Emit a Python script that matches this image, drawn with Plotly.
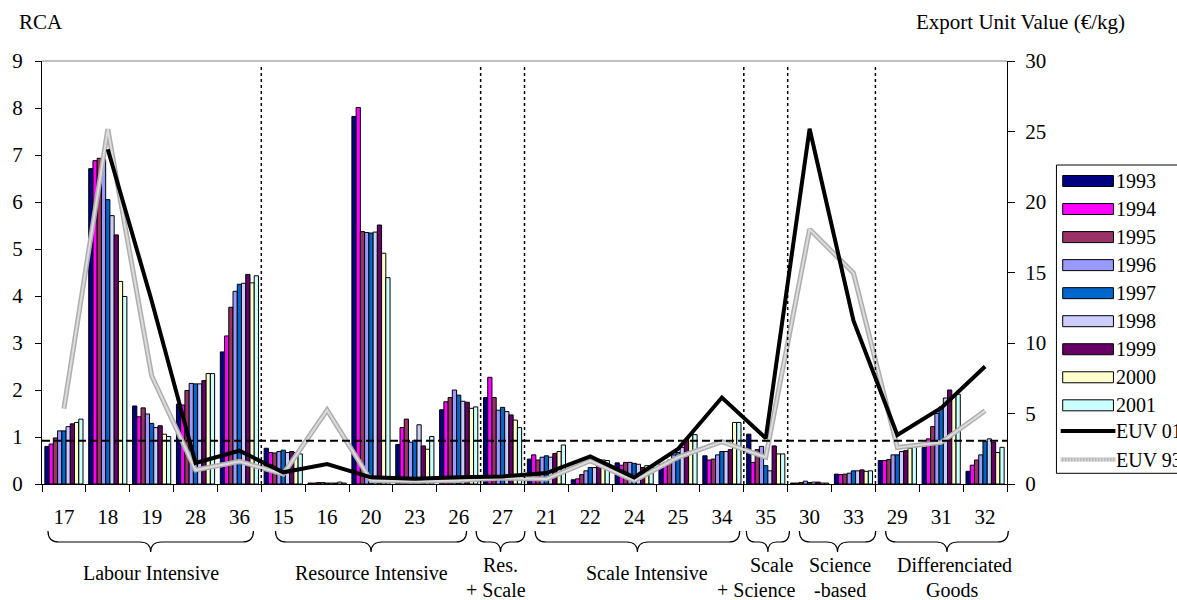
import plotly.graph_objects as go

# ---------------- data ----------------
categories = ["17", "18", "19", "28", "36", "15", "16", "20", "23", "26", "27",
              "21", "22", "24", "25", "34", "35", "30", "33", "29", "31", "32"]
years = ["1993", "1994", "1995", "1996", "1997", "1998", "1999", "2000", "2001"]

rca_1993 = [0.80, 6.71, 1.66, 1.70, 2.81, 0.76, 0.02, 7.82, 0.84, 1.58, 1.84, 0.53, 0.09, 0.45, 0.42, 0.60, 1.06, 0.02, 0.21, 0.50, 0.78, 0.27]
rca_1994 = [0.85, 6.88, 1.43, 1.68, 3.15, 0.67, 0.02, 8.01, 1.20, 1.75, 2.27, 0.62, 0.11, 0.40, 0.46, 0.51, 0.46, 0.02, 0.20, 0.50, 0.96, 0.40]
rca_1995 = [0.98, 6.93, 1.62, 1.99, 3.76, 0.66, 0.03, 5.37, 1.38, 1.84, 1.84, 0.51, 0.20, 0.46, 0.51, 0.53, 0.73, 0.03, 0.21, 0.52, 1.22, 0.51]
rca_1996 = [1.13, 6.90, 1.49, 2.14, 4.10, 0.69, 0.03, 5.35, 0.89, 2.00, 1.57, 0.57, 0.28, 0.46, 0.62, 0.62, 0.80, 0.06, 0.23, 0.62, 1.50, 0.62]
rca_1997 = [1.13, 6.05, 1.29, 2.13, 4.25, 0.72, 0.02, 5.34, 0.93, 1.89, 1.63, 0.60, 0.35, 0.44, 0.67, 0.69, 0.39, 0.03, 0.28, 0.62, 1.64, 0.91]
rca_1998 = [1.22, 5.71, 1.20, 2.13, 4.27, 0.67, 0.02, 5.36, 1.26, 1.76, 1.54, 0.57, 0.35, 0.42, 0.78, 0.69, 0.28, 0.04, 0.28, 0.69, 1.83, 0.96]
rca_1999 = [1.28, 5.30, 1.24, 2.20, 4.46, 0.69, 0.02, 5.51, 0.81, 1.74, 1.47, 0.65, 0.46, 0.35, 0.92, 0.73, 0.81, 0.04, 0.30, 0.71, 2.00, 0.89]
rca_2000 = [1.31, 4.31, 1.06, 2.35, 4.28, 0.67, 0.04, 4.91, 0.74, 1.61, 1.36, 0.69, 0.51, 0.39, 1.05, 1.31, 0.64, 0.02, 0.27, 0.76, 1.88, 0.67]
rca_2001 = [1.38, 3.99, 1.01, 2.35, 4.43, 0.64, 0.02, 4.39, 1.01, 1.64, 1.20, 0.83, 0.50, 0.37, 1.05, 1.31, 0.64, 0.02, 0.28, 0.82, 1.91, 0.78]

euv_01 = [None, 23.74, 13.0, 1.49, 2.36, 0.83, 1.42, 0.47, 0.38, 0.47, 0.54, 0.78, 1.96, 0.47, 2.48, 6.13, 3.25, 25.2, 11.58, 3.47, 5.4, 8.33]
euv_93 = [5.35, 25.16, 7.68, 0.99, 1.6, 0.71, 5.24, 0.24, 0.19, 0.24, 0.42, 0.35, 1.65, 0.24, 1.89, 3.0, 1.9, 18.07, 14.96, 2.59, 2.95, 5.19]

rca_reference = 0.92
line_names = ["EUV 01", "EUV 93"]

group_labels = ["Labour Intensive", "Resource Intensive", "Res.", "+ Scale", "Scale Intensive",
                "Scale", "+ Science", "Science", "-based", "Differenciated", "Goods"]

# ---------------- style ----------------
rca_series = [rca_1993, rca_1994, rca_1995, rca_1996, rca_1997, rca_1998, rca_1999, rca_2000, rca_2001]
year_colors = ["#000080", "#FF00FF", "#993366", "#9999FF", "#0066CC",
               "#CCCCFF", "#660066", "#FFFFCC", "#CCFFFF"]
FONT = "Times New Roman, Liberation Serif, DejaVu Serif, serif"

L, R, T, B = 37, 170, 61, 116
FW, FH = 1177, 600
W = FW - L - R
H = FH - T - B


def px(x):
    return (x - L) / W


def py(y):
    return (FH - B - y) / H


fig = go.Figure()

for yr, vals, col in zip(years, rca_series, year_colors):
    fig.add_trace(go.Bar(
        x=categories, y=vals, name=yr,
        marker=dict(color=col, line=dict(color="black", width=1)),
        showlegend=False, yaxis="y",
    ))

fig.add_trace(go.Scatter(
    x=categories, y=euv_93, mode="lines", name=line_names[1], yaxis="y2",
    line=dict(color="#AEAEAE", width=5), showlegend=False, connectgaps=False,
))
fig.add_trace(go.Scatter(
    x=categories, y=euv_93, mode="lines", name=line_names[1], yaxis="y2",
    line=dict(color="#DCDCDC", width=2), showlegend=False, connectgaps=False,
))
fig.add_trace(go.Scatter(
    x=categories, y=euv_01, mode="lines", name=line_names[0], yaxis="y2",
    line=dict(color="black", width=4), showlegend=False, connectgaps=False,
))

shapes = []
# separators between groups
for b in [4.5, 9.5, 10.5, 15.5, 16.5, 18.5]:
    shapes.append(dict(type="line", xref="x", yref="y", x0=b, x1=b, y0=0, y1=8.9,
                       line=dict(color="black", width=1.5, dash="dot"), layer="above"))
# reference dashed line
shapes.append(dict(type="line", xref="paper", yref="y", x0=0, x1=1, y0=rca_reference, y1=rca_reference,
                   line=dict(color="black", width=2, dash="8px,4px"), layer="above"))
# top border
shapes.append(dict(type="line", xref="paper", yref="paper", x0=0, x1=1, y0=1, y1=1,
                   line=dict(color="#808080", width=1), layer="above"))

# braces
braces = [(43, 249.5), (271.7, 463.8), (473.4, 522.4), (532.7, 738.3),
          (745, 788.3), (798.3, 875), (885, 1008.3)]
ya, yh, yt = 531, 542, 552
for x0, x1 in braces:
    xm = (x0 + x1) / 2
    r = min(11, (x1 - x0) / 5)
    pts = [("M", x0, ya), ("Q", x0, yh), ("", x0 + r, yh), ("L", xm - r, yh),
           ("Q", xm, yh), ("", xm, yt), ("Q", xm, yh), ("", xm + r, yh),
           ("L", x1 - r, yh), ("Q", x1, yh), ("", x1, ya)]
    path = " ".join(f"{c}{px(x):.5f},{py(y):.5f}" if c else f"{px(x):.5f},{py(y):.5f}" for c, x, y in pts)
    shapes.append(dict(type="path", xref="paper", yref="paper", path=path,
                       line=dict(color="black", width=1.2)))

# manual legend
shapes.append(dict(type="rect", xref="paper", yref="paper",
                   x0=px(1056.7), x1=px(1220), y0=py(165), y1=py(473.3),
                   line=dict(color="black", width=1), fillcolor="white"))
annotations = []
for i, (yr, col) in enumerate(zip(years, year_colors)):
    yc = 181 + 28.04 * i
    shapes.append(dict(type="rect", xref="paper", yref="paper",
                       x0=px(1063), x1=px(1114), y0=py(yc - 5.5), y1=py(yc + 5.5),
                       line=dict(color="black", width=1), fillcolor=col))
    annotations.append(dict(x=px(1115), y=py(yc), xref="paper", yref="paper", text=yr,
                            showarrow=False, xanchor="left", yanchor="middle",
                            font=dict(family=FONT, size=20, color="black")))
for name, yc, kind in [(line_names[0], 431, "black"), (line_names[1], 459.5, "grey")]:
    if kind == "black":
        shapes.append(dict(type="line", xref="paper", yref="paper", x0=px(1061), x1=px(1116),
                           y0=py(yc), y1=py(yc), line=dict(color="black", width=4)))
    else:
        shapes.append(dict(type="line", xref="paper", yref="paper", x0=px(1061), x1=px(1116),
                           y0=py(yc), y1=py(yc), line=dict(color="#B8B8B8", width=4)))
        shapes.append(dict(type="line", xref="paper", yref="paper", x0=px(1061), x1=px(1116),
                           y0=py(yc), y1=py(yc), line=dict(color="#E2E2E2", width=4, dash="1px,2px")))
    annotations.append(dict(x=px(1115), y=py(yc), xref="paper", yref="paper", text=name,
                            showarrow=False, xanchor="left", yanchor="middle",
                            font=dict(family=FONT, size=20, color="black")))

# axis titles
annotations.append(dict(x=px(12), y=py(22), xref="paper", yref="paper", text="RCA", showarrow=False,
                        xanchor="left", yanchor="middle", font=dict(family=FONT, size=21, color="black")))
annotations.append(dict(x=px(1128), y=py(22), xref="paper", yref="paper", text="Export Unit Value (€/kg)",
                        showarrow=False, xanchor="right", yanchor="middle",
                        font=dict(family=FONT, size=21, color="black")))

# group labels
label_pos = [(146.8, 573), (367.8, 573), (497.5, 565), (493.7, 590), (645, 573),
             (770, 565), (755, 590), (839, 565), (839.6, 590), (953.8, 565), (952, 590)]
for txt, (x, y) in zip(group_labels, label_pos):
    annotations.append(dict(x=px(x), y=py(y), xref="paper", yref="paper", text=txt, showarrow=False,
                            xanchor="center", yanchor="middle",
                            font=dict(family=FONT, size=20, color="black")))

tickfont = dict(family=FONT, size=21, color="black")
fig.update_layout(
    width=FW, height=FH,
    margin=dict(l=L, r=R, t=T, b=B, pad=0),
    paper_bgcolor="white", plot_bgcolor="white",
    font=dict(family=FONT, color="black"),
    barmode="group", bargap=0.13, bargroupgap=0,
    showlegend=False,
    xaxis=dict(type="category", range=[-0.5, 21.5], tickson="boundaries", ticks="outside",
               ticklen=7, tickcolor="black", tickwidth=1, showline=True, linecolor="black",
               linewidth=1, showgrid=False, zeroline=False, tickfont=tickfont,
               ticklabelstandoff=14, fixedrange=True),
    yaxis=dict(range=[0, 9], dtick=1, tick0=0, ticks="outside", ticklen=6, tickcolor="black",
               showline=True, linecolor="black", linewidth=1, showgrid=False, zeroline=False,
               tickfont=tickfont, ticklabelstandoff=8),
    yaxis2=dict(range=[0, 30], dtick=5, tick0=0, overlaying="y", side="right", anchor="x",
                ticks="outside", ticklen=7, tickcolor="black", showline=True, linecolor="black",
                linewidth=1, showgrid=False, zeroline=False, tickfont=tickfont, ticklabelstandoff=6),
    yaxis3=dict(range=[0, 9], dtick=1, tick0=0, overlaying="y", side="left", anchor="x",
                ticks="inside", ticklen=6, tickcolor="black", showline=False, showgrid=False,
                zeroline=False, showticklabels=False),
    yaxis4=dict(range=[0, 30], dtick=5, tick0=0, overlaying="y", side="right", anchor="x",
                ticks="inside", ticklen=7, tickcolor="black", showline=False, showgrid=False,
                zeroline=False, showticklabels=False),
    shapes=shapes,
    annotations=annotations,
)

fig.write_html("out.html")
